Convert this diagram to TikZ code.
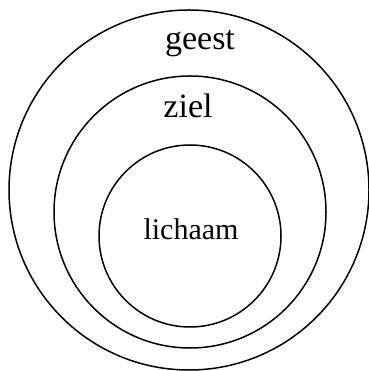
\documentclass[tikz,border=0pt]{standalone}
\usepackage{fontspec}
\setmainfont{Liberation Serif}
\usepackage{tikz}
\usetikzlibrary{positioning}

\begin{document}
\begin{tikzpicture}[
    x=1pt, y=1pt,
    ring/.style={draw=black, circle, line width=1.5pt, inner sep=0pt},
    labelstyle/.style={anchor=base, inner sep=0pt},
]
\useasboundingbox (0,0) rectangle (368,371);

% ================= RINGS =================
\node[ring, minimum size=360pt] (geestring) at (189,181) {};
\node[ring, minimum size=272pt] (zielring) at (190,159) {};
\node[ring, minimum size=182pt] (lichaamring) at (190,135) {};

% ================= LABELS =================
\node[labelstyle, font=\fontsize{34}{34}\selectfont] (geest) at (200,321) {geest};
\node[labelstyle, font=\fontsize{34}{34}\selectfont] (ziel) at (188,253) {ziel};
\node[labelstyle, font=\fontsize{30}{30}\selectfont] (lichaam) at (191,131) {lichaam};

\end{tikzpicture}
\end{document}
